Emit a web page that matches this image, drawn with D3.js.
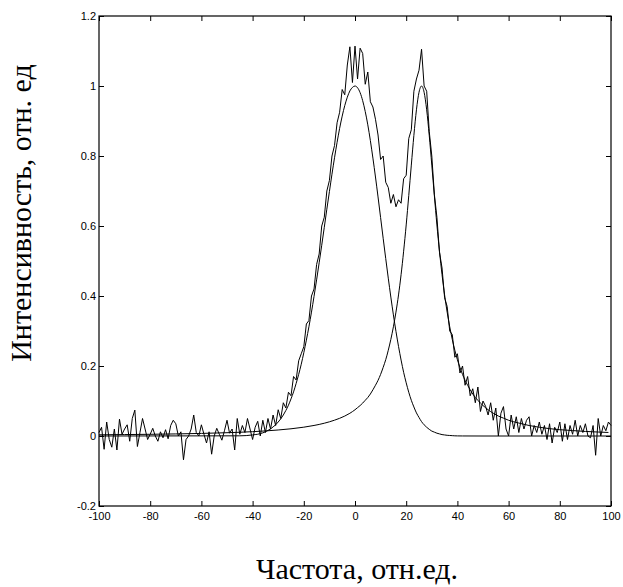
<!DOCTYPE html>
<html>
<head>
<meta charset="utf-8">
<script src="https://cdn.jsdelivr.net/npm/d3@7"></script>
<style>
	body { margin: 0; background: #fff; }
	.tick text { font-family: "Liberation Sans", Arial, sans-serif; font-size: 11px; fill: #000; }
	.tick line { stroke: #000; }
	.axisTitle { font-family: "Liberation Serif", "Times New Roman", serif; fill: #000; }
	.curve { fill: none; stroke: #000; stroke-width: 1; }
</style>
</head>
<body>
<svg id="chart" width="623" height="587"></svg>
<script>
// frequency grid of the measured spectrum (step 1)
var freq = d3.range(-100, 101);

// measured (noisy) intensity, one value per freq
var measured = [
	0.01, 0.025, -0.038, 0.04, -0.01, -0.032, 0.02, -0.04, 0.048, 0.005,
	0.02, 0.032, -0.015, 0.05, 0.074, -0.03, 0.01, 0.05, 0.02, -0.01,
	0.005, 0.022, 0.0, -0.015, 0.012, -0.005, 0.018, -0.008, 0.03, 0.045,
	0.035, 0.0, 0.012, -0.068, -0.01, 0.0, 0.02, 0.06, 0.01, 0.0,
	0.032, 0.005, -0.02, 0.012, -0.052, 0.0, 0.022, 0.005, -0.012, 0.015,
	0.045, 0.008, 0.02, -0.04, 0.05, 0.005, 0.03, 0.01, 0.05, 0.02,
	-0.01, 0.025, 0.042, 0.0, 0.045, 0.01, 0.05, 0.02, 0.06, 0.03,
	0.075, 0.05, 0.095, 0.08, 0.125, 0.115, 0.17, 0.16, 0.215, 0.235,
	0.255, 0.32, 0.33, 0.4, 0.42, 0.49, 0.52, 0.6, 0.625, 0.7,
	0.73, 0.8, 0.83, 0.895, 0.925, 0.99, 0.975, 1.06, 1.112, 1.01,
	1.114, 1.02, 1.108, 1.093, 1.005, 1.04, 0.955, 0.94, 0.905, 0.86,
	0.79, 0.8, 0.725, 0.71, 0.665, 0.69, 0.655, 0.675, 0.665, 0.735,
	0.745, 0.85, 0.875, 0.985, 1.02, 1.045, 1.105, 1.0, 0.985, 0.87,
	0.8, 0.69, 0.625, 0.525, 0.48, 0.395, 0.37, 0.3, 0.29, 0.225,
	0.235, 0.18, 0.2, 0.145, 0.17, 0.115, 0.135, 0.095, 0.14, 0.07,
	0.1, 0.085, 0.06, 0.095, 0.045, 0.08, 0.0, 0.065, 0.084, 0.02,
	0.0, 0.06, 0.02, 0.055, 0.01, 0.05, 0.02, 0.045, 0.055, 0.0,
	0.03, 0.01, 0.04, 0.005, 0.03, -0.01, 0.035, -0.02, 0.025, 0.01,
	0.04, -0.015, 0.035, -0.01, 0.03, 0.005, 0.045, 0.0, 0.03, 0.01,
	0.035, 0.0, -0.005, 0.03, -0.055, 0.05, 0.0, 0.03, 0.015, 0.04,
	0.03
];

// first fitted line (centre 0)
var fit1X = [-100, -45, -40, -39, -38, -37, -36, -35, -34, -33, -32, -31, -30, -29, -28, -27, -26, -25, -24, -23, -22, -21, -20, -19, -18, -17, -16, -15, -14, -13, -12, -11, -10, -9, -8, -7, -6, -5, -4, -3, -2, -1, 0, 1, 2, 3, 4, 5, 6, 7, 8, 9, 10, 11, 12, 13, 14, 15, 16, 17, 18, 19, 20, 21, 22, 23, 24, 25, 26, 27, 28, 29, 30, 31, 32, 33, 34, 35, 36, 37, 38, 39, 40, 42, 50, 100];
var fit1Y = [0, 0.0005, 0.003, 0.004, 0.005, 0.007, 0.009, 0.012, 0.016, 0.02, 0.026, 0.032, 0.04, 0.049, 0.06, 0.073, 0.088, 0.106, 0.126, 0.15, 0.176, 0.205, 0.238, 0.274, 0.312, 0.354, 0.399, 0.446, 0.495, 0.545, 0.596, 0.648, 0.698, 0.748, 0.795, 0.839, 0.879, 0.914, 0.944, 0.968, 0.986, 0.996, 1, 0.995, 0.981, 0.958, 0.927, 0.889, 0.844, 0.794, 0.74, 0.683, 0.624, 0.565, 0.507, 0.451, 0.397, 0.346, 0.299, 0.256, 0.217, 0.182, 0.152, 0.125, 0.102, 0.083, 0.066, 0.053, 0.041, 0.032, 0.025, 0.019, 0.014, 0.011, 0.008, 0.006, 0.004, 0.003, 0.002, 0.0015, 0.001, 0.0005, 0.0003, 0.0001, 0, 0];

// second fitted line (centre 26)
var fit2X = [-100, -90, -80, -70, -60, -50, -45, -40, -35, -30, -25, -20, -16, -12, -8, -4, -2, 0, 1, 2, 3, 4, 5, 6, 7, 8, 9, 10, 11, 12, 13, 14, 15, 16, 17, 18, 19, 20, 21, 22, 23, 24, 25, 26, 27, 28, 29, 30, 31, 32, 33, 34, 35, 36, 37, 38, 39, 40, 41, 42, 43, 44, 45, 46, 47, 48, 49, 50, 51, 52, 54, 56, 58, 60, 64, 68, 72, 76, 80, 85, 90, 95, 99];
var fit2Y = [0.0034, 0.0041, 0.0049, 0.0059, 0.0074, 0.0094, 0.0107, 0.0124, 0.0145, 0.0172, 0.0206, 0.0252, 0.0301, 0.0365, 0.0452, 0.057, 0.065, 0.075, 0.081, 0.087, 0.094, 0.102, 0.11, 0.12, 0.132, 0.145, 0.159, 0.176, 0.196, 0.218, 0.245, 0.276, 0.312, 0.354, 0.403, 0.461, 0.528, 0.603, 0.687, 0.774, 0.859, 0.932, 0.982, 1, 0.982, 0.932, 0.859, 0.774, 0.687, 0.603, 0.528, 0.461, 0.403, 0.354, 0.312, 0.276, 0.245, 0.218, 0.196, 0.176, 0.159, 0.145, 0.132, 0.12, 0.11, 0.102, 0.094, 0.087, 0.081, 0.075, 0.065, 0.057, 0.051, 0.045, 0.037, 0.03, 0.025, 0.021, 0.018, 0.0155, 0.013, 0.0113, 0.0101];

// axis ticks
var xTicks = [-100, -80, -60, -40, -20, 0, 20, 40, 60, 80, 100];
var yTicks = [-0.2, 0, 0.2, 0.4, 0.6, 0.8, 1, 1.2];

var xLabel = "Частота, отн.ед.";
var yLabel = "Интенсивность, отн. ед";

var plotLeft = 99,
	plotRight = 611,
	plotTop = 16,
	plotBottom = 506;

var svg = d3.select("#chart");

var x = d3.scaleLinear().domain([-100, 100]).range([plotLeft, plotRight]);
var y = d3.scaleLinear().domain([-0.2, 1.2]).range([plotBottom, plotTop]);

// ticks point inwards on all four sides, labels only bottom / left
svg.append("g")
	.attr("transform", "translate(0," + plotBottom + ")")
	.call(d3.axisBottom(x).tickValues(xTicks).tickSize(-5).tickSizeOuter(0).tickPadding(6).tickFormat(d => String(d)))
	.call(g => g.select(".domain").remove());

svg.append("g")
	.attr("transform", "translate(0," + plotTop + ")")
	.call(d3.axisTop(x).tickValues(xTicks).tickSize(-5).tickSizeOuter(0).tickFormat(""))
	.call(g => g.select(".domain").remove());

svg.append("g")
	.attr("transform", "translate(" + plotLeft + ",0)")
	.call(d3.axisLeft(y).tickValues(yTicks).tickSize(-5).tickSizeOuter(0).tickPadding(3).tickFormat(d => String(d)))
	.call(g => g.select(".domain").remove());

svg.append("g")
	.attr("transform", "translate(" + plotRight + ",0)")
	.call(d3.axisRight(y).tickValues(yTicks).tickSize(-5).tickSizeOuter(0).tickFormat(""))
	.call(g => g.select(".domain").remove());

// box
svg.append("rect")
	.attr("x", plotLeft)
	.attr("y", plotTop)
	.attr("width", plotRight - plotLeft)
	.attr("height", plotBottom - plotTop)
	.style("fill", "none")
	.style("stroke", "#000")
	.style("stroke-width", 1.2);

var line = d3
	.line()
	.x(d => x(d[0]))
	.y(d => y(d[1]));

var smooth = d3
	.line()
	.curve(d3.curveMonotoneX)
	.x(d => x(d[0]))
	.y(d => y(d[1]));

svg.append("path")
	.datum(d3.zip(fit1X, fit1Y))
	.classed("curve", true)
	.attr("d", smooth);

svg.append("path")
	.datum(d3.zip(fit2X, fit2Y))
	.classed("curve", true)
	.attr("d", smooth);

svg.append("path")
	.datum(d3.zip(freq, measured))
	.classed("curve", true)
	.attr("d", line);

// axis titles
svg.append("text")
	.classed("axisTitle", true)
	.attr("x", 357)
	.attr("y", 579)
	.attr("text-anchor", "middle")
	.style("font-size", "30px")
	.text(xLabel);

svg.append("text")
	.classed("axisTitle", true)
	.attr("transform", "translate(31,213) rotate(-90)")
	.attr("text-anchor", "middle")
	.style("font-size", "30px")
	.text(yLabel);
</script>
</body>
</html>
